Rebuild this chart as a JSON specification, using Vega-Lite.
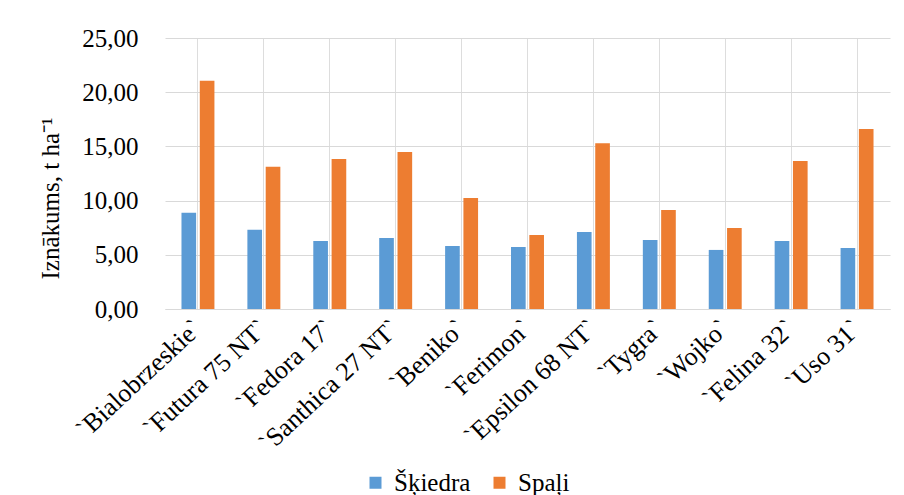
{
  "$schema": "https://vega.github.io/schema/vega-lite/v6.json",
  "width": 725,
  "height": 271,
  "autosize": {"type": "none"},
  "padding": {"left": 165, "top": 38, "right": 14, "bottom": 186},
  "background": "white",
  "data": {
    "values": [
      {"cat": "`Bialobrzeskie`", "series": "Šķiedra", "value": 8.87},
      {"cat": "`Bialobrzeskie`", "series": "Spaļi", "value": 21.06},
      {"cat": "`Futura 75 NT`", "series": "Šķiedra", "value": 7.3},
      {"cat": "`Futura 75 NT`", "series": "Spaļi", "value": 13.13},
      {"cat": "`Fedora 17`", "series": "Šķiedra", "value": 6.27},
      {"cat": "`Fedora 17`", "series": "Spaļi", "value": 13.84},
      {"cat": "`Santhica 27 NT`", "series": "Šķiedra", "value": 6.55},
      {"cat": "`Santhica 27 NT`", "series": "Spaļi", "value": 14.48},
      {"cat": "`Beniko`", "series": "Šķiedra", "value": 5.81},
      {"cat": "`Beniko`", "series": "Spaļi", "value": 10.24},
      {"cat": "`Ferimon`", "series": "Šķiedra", "value": 5.72},
      {"cat": "`Ferimon`", "series": "Spaļi", "value": 6.83},
      {"cat": "`Epsilon 68 NT`", "series": "Šķiedra", "value": 7.1},
      {"cat": "`Epsilon 68 NT`", "series": "Spaļi", "value": 15.3},
      {"cat": "`Tygra`", "series": "Šķiedra", "value": 6.37},
      {"cat": "`Tygra`", "series": "Spaļi", "value": 9.13},
      {"cat": "`Wojko`", "series": "Šķiedra", "value": 5.45},
      {"cat": "`Wojko`", "series": "Spaļi", "value": 7.47},
      {"cat": "`Felina 32`", "series": "Šķiedra", "value": 6.27},
      {"cat": "`Felina 32`", "series": "Spaļi", "value": 13.65},
      {"cat": "`Uso 31`", "series": "Šķiedra", "value": 5.63},
      {"cat": "`Uso 31`", "series": "Spaļi", "value": 16.6}
    ]
  },
  "mark": {"type": "bar"},
  "encoding": {
    "x": {
      "field": "cat",
      "type": "nominal",
      "sort": null,
      "scale": {"paddingInner": 0.5, "paddingOuter": 0.25},
      "axis": {
        "title": null,
        "labelAngle": -43,
        "labelAlign": "right",
        "labelBaseline": "middle",
        "labelFont": "Liberation Serif",
        "labelFontSize": 26,
        "labelColor": "#000000",
        "labelPadding": 15,
        "labelLimit": 400,
        "labelOverlap": false,
        "ticks": false,
        "domainColor": "#D9D9D9",
        "domainWidth": 1
      }
    },
    "xOffset": {
      "field": "series",
      "type": "nominal",
      "sort": ["Šķiedra", "Spaļi"],
      "scale": {"paddingInner": 0.2, "paddingOuter": 0}
    },
    "y": {
      "field": "value",
      "type": "quantitative",
      "scale": {"domain": [0, 25], "nice": false},
      "axis": {
        "title": "Iznākums, t ha⁻¹",
        "titleFont": "Liberation Serif",
        "titleFontSize": 25,
        "titleFontWeight": "normal",
        "titleColor": "#000000",
        "titlePadding": 18,
        "titleY": 160,
        "values": [0, 5, 10, 15, 20, 25],
        "format": ".2f",
        "labelExpr": "replace(datum.label, '.', ',')",
        "labelFont": "Liberation Serif",
        "labelFontSize": 25,
        "labelColor": "#000000",
        "labelPadding": 27,
        "ticks": false,
        "domain": false,
        "gridColor": "#D9D9D9",
        "gridWidth": 1
      }
    },
    "color": {
      "field": "series",
      "type": "nominal",
      "sort": ["Šķiedra", "Spaļi"],
      "scale": {"domain": ["Šķiedra", "Spaļi"], "range": ["#5B9BD5", "#ED7D31"]},
      "legend": {
        "title": null,
        "orient": "none",
        "direction": "horizontal",
        "legendX": 198,
        "legendY": 432,
        "symbolType": "square",
        "symbolSize": 144,
        "symbolStrokeWidth": 0,
        "labelFont": "Liberation Serif",
        "labelFontSize": 25,
        "labelColor": "#000000",
        "columnPadding": 16,
        "labelOffset": 6
      }
    }
  },
  "config": {
    "view": {"stroke": null},
    "axis": {"grid": true}
  }
}
